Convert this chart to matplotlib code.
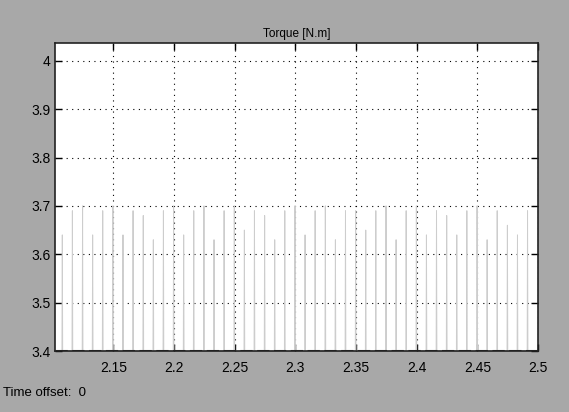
import matplotlib.pyplot as plt

# torque ripple spikes: time [s] and peak value [N.m]
spike_t = [2.1080, 2.1163, 2.1247, 2.1330, 2.1413, 2.1497, 2.1580, 2.1663,
           2.1747, 2.1830, 2.1913, 2.1997, 2.2080, 2.2163, 2.2247, 2.2330,
           2.2413, 2.2497, 2.2580, 2.2663, 2.2747, 2.2830, 2.2913, 2.2997,
           2.3080, 2.3163, 2.3247, 2.3330, 2.3413, 2.3497, 2.3580, 2.3663,
           2.3747, 2.3830, 2.3913, 2.3997, 2.4080, 2.4163, 2.4247, 2.4330,
           2.4413, 2.4497, 2.4580, 2.4663, 2.4747, 2.4830, 2.4913]
spike_peak = [3.64, 3.69, 3.70, 3.64, 3.69, 3.70, 3.64, 3.69, 3.68, 3.63,
              3.69, 3.70, 3.64, 3.69, 3.70, 3.63, 3.69, 3.70, 3.65, 3.69,
              3.68, 3.63, 3.69, 3.70, 3.64, 3.69, 3.70, 3.63, 3.69, 3.69,
              3.65, 3.69, 3.70, 3.63, 3.69, 3.70, 3.64, 3.69, 3.68, 3.64,
              3.69, 3.70, 3.63, 3.69, 3.66, 3.64, 3.69]
base = 3.4

x_ticks = [2.15, 2.2, 2.25, 2.3, 2.35, 2.4, 2.45, 2.5]
x_labels = ['2.15', '2.2', '2.25', '2.3', '2.35', '2.4', '2.45', '2.5']
y_ticks = [3.4, 3.5, 3.6, 3.7, 3.8, 3.9, 4.0]
y_labels = ['3.4', '3.5', '3.6', '3.7', '3.8', '3.9', '4']

plt.rcParams['font.family'] = ['Liberation Sans', 'DejaVu Sans']

bg = '#a8a8a8'
fig = plt.figure(figsize=(5.69, 4.12), dpi=100, facecolor=bg)
ax = fig.add_axes([0.0967, 0.148, 0.849, 0.748])
ax.set_facecolor('white')

# build the pulse trace: flat at base, narrow spike at each time
t = [2.102]
y = [base]
w = 0.0003
for ts, pk in zip(spike_t, spike_peak):
    t += [ts - w, ts, ts + w]
    y += [base, pk, base]
t.append(2.5)
y.append(base)

ax.plot(t, y, color='#cdcdcd', linewidth=0.7, zorder=2)
ax.plot([2.102, 2.5], [base, base], color='#222222', linewidth=2.2,
        dashes=(4, 1.5), zorder=3)

ax.set_xlim(2.102, 2.5)
ax.set_ylim(3.4, 4.037)
ax.set_xticks(x_ticks)
ax.set_xticklabels(x_labels)
ax.set_yticks(y_ticks)
ax.set_yticklabels(y_labels)
ax.grid(True, color='black', linestyle=(0, (1, 4)), linewidth=0.8)
ax.tick_params(direction='in', length=5, width=1, top=True, right=True,
               labelsize=10, colors='black')
ax.tick_params(axis='x', pad=7)
ax.tick_params(axis='y', pad=3)
for s in ax.spines.values():
    s.set_linewidth(1.2)
    s.set_color('#222222')

ax.set_title('Torque [N.m]', fontsize=8.5, pad=4)
fig.text(0.005, 0.045, 'Time offset:  0', fontsize=9.5, ha='left', va='center')

fig.savefig('out.png', dpi=100, facecolor=bg)
